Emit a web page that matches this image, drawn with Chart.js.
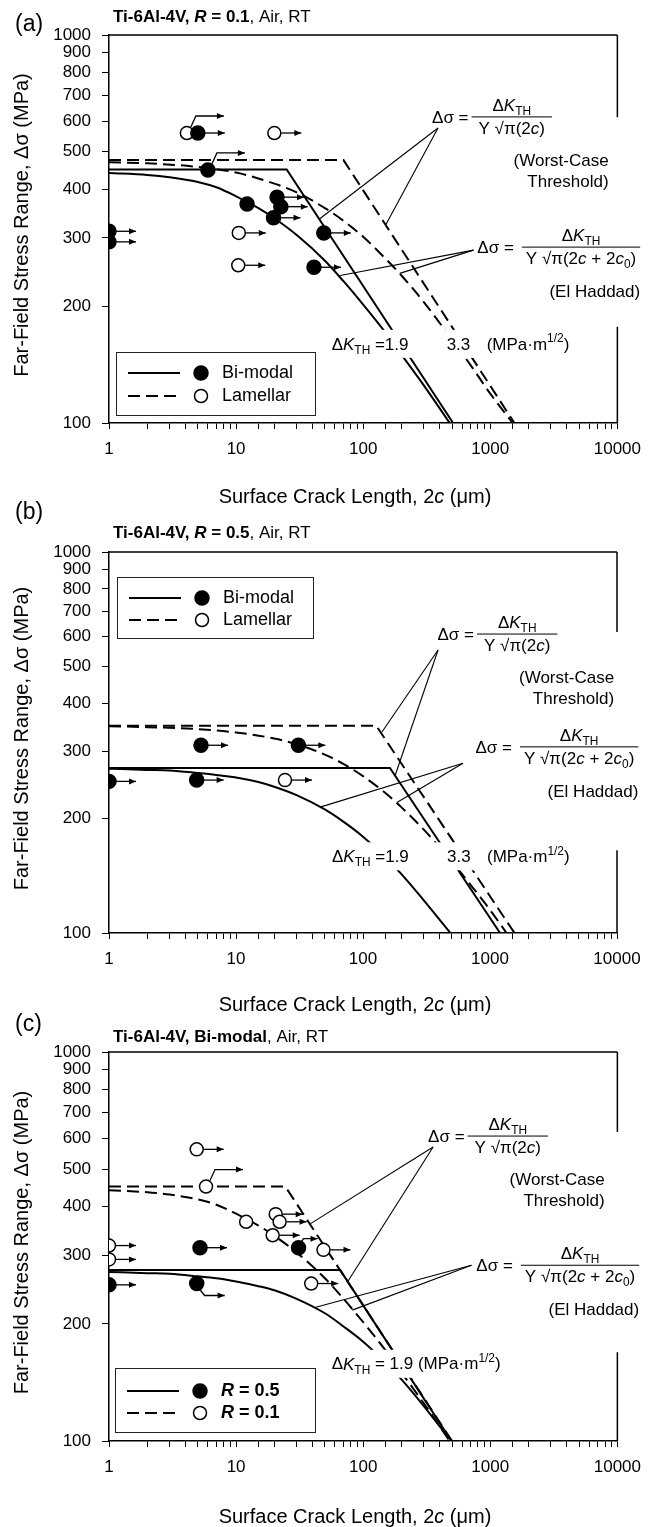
<!DOCTYPE html>
<html>
<head>
<meta charset="utf-8">
<script src="https://cdn.jsdelivr.net/npm/chart.js@4.4.1/dist/chart.umd.min.js"></script>
<style>
body { margin: 0; background: #fff; }
#wrap { position: relative; width: 651px; height: 1527px; overflow: hidden; }
canvas { position: absolute; left: 0; }
</style>
</head>
<body>
<div id="wrap">
  <canvas id="chartA" width="651" height="520" style="top:0px"></canvas>
  <canvas id="chartB" width="651" height="530" style="top:490px"></canvas>
  <canvas id="chartC" width="651" height="522" style="top:1005px"></canvas>
</div>
<script>
// tick labels
var xTickLabels = [1, 10, 100, 1000, 10000];
var yTickLabels = [100, 200, 300, 400, 500, 600, 700, 800, 900, 1000];

// (a) R = 0.1 : test points (arrow: r = runout, u/d = bent arrow)
var aBimodalX = [1, 1, 5.0, 6.0, 12.2, 21, 22.5, 19.7, 49, 41];
var aBimodalY = [312, 293, 559, 449, 367, 382, 361, 338, 309, 252];
var aBimodalArrow = ['r', 'r', 'r', 'u', '', 'r', 'r', 'r', 'r', 'r'];
var aLamellarX = [4.1, 20, 10.5, 10.4];
var aLamellarY = [559, 559, 309, 255];
var aLamellarArrow = ['u', 'r', 'r', 'r'];
// (a) threshold lines
var aWorstBimodalX = [1, 25, 510];
var aWorstBimodalY = [450, 450, 100];
var aWorstLamellarX = [1, 70, 1550];
var aWorstLamellarY = [476, 476, 100];
var aHaddadBimodalX = [1, 2, 3, 5, 7, 10, 15, 20, 30, 50, 70, 100, 150, 200, 300, 500];
var aHaddadBimodalY = [441, 436, 430, 418, 405, 384, 358, 337, 305, 262, 232, 202, 171, 150, 125, 98];
var aHaddadLamellarX = [1, 2, 5, 10, 20, 30, 50, 70, 100, 150, 200, 300, 500, 700, 1000, 1500];
var aHaddadLamellarY = [470, 467, 457, 442, 414, 393, 358, 332, 302, 265, 240, 205, 164, 141, 119, 100];

// (b) R = 0.5
var bBimodalX = [1, 5.3, 4.9, 31];
var bBimodalY = [250, 311, 252, 311];
var bBimodalArrow = ['r', 'r', 'r', 'r'];
var bLamellarX = [24.3];
var bLamellarY = [252];
var bLamellarArrow = ['r'];
var bWorstBimodalX = [1, 163, 1200];
var bWorstBimodalY = [271, 271, 100];
var bWorstLamellarX = [1, 127, 1560];
var bWorstLamellarY = [350, 350, 100];
var bHaddadBimodalX = [1, 2, 3, 5, 7, 10, 15, 20, 30, 50, 70, 100, 150, 200, 300, 500];
var bHaddadBimodalY = [270, 268, 267, 263, 260, 256, 249, 242, 230, 211, 196, 179, 158, 143, 122, 99];
var bHaddadLamellarX = [1, 2, 5, 10, 20, 30, 50, 70, 100, 150, 200, 300, 500, 700, 1000, 1350];
var bHaddadLamellarY = [349, 347, 343, 336, 324, 313, 294, 278, 258, 233, 214, 187, 154, 134, 115, 100];

// (c) Bi-modal, R = 0.5 vs R = 0.1
var cR01X = [1, 1, 4.9, 5.8, 12, 20.5, 22, 19.4, 48.7, 39];
var cR01Y = [318, 293, 562, 451, 366, 383, 366, 338, 310, 254];
var cR01Arrow = ['r', 'r', 'r', 'u', '', 'r', 'r', 'r', 'r', 'r'];
var cR05X = [1, 5.2, 4.9, 31];
var cR05Y = [252, 314, 254, 314];
var cR05Arrow = ['r', 'r', 'd', 'u2'];
var cWorstR05X = [1, 66, 495];
var cWorstR05Y = [275, 275, 100];
var cWorstR01X = [1, 24.4, 500];
var cWorstR01Y = [451, 451, 100];
var cHaddadR05X = [1, 2, 3, 5, 7, 10, 15, 20, 30, 50, 70, 100, 150, 200, 300, 450, 500];
var cHaddadR05Y = [272, 270, 269, 265, 262, 257, 250, 244, 232, 213, 197, 180, 159, 144, 123, 104, 100];
var cHaddadR01X = [1, 2, 3, 5, 7, 10, 15, 20, 30, 50, 70, 100, 150, 200, 300, 500];
var cHaddadR01Y = [441, 436, 430, 418, 405, 384, 358, 337, 305, 262, 232, 202, 171, 150, 125, 98];

var FONT = '"Liberation Sans", Arial, Helvetica, sans-serif';

function pts(xs, ys) {
  return xs.map(function (x, i) { return { x: x, y: ys[i] }; });
}

function markerSet(label, xs, ys, arrows, filled) {
  return {
    label: label, data: pts(xs, ys), arrows: arrows, showLine: false,
    pointRadius: filled ? 7 : 6.5,
    pointBackgroundColor: filled ? '#000' : '#fff',
    pointBorderColor: '#000', pointBorderWidth: 1.5, order: 0
  };
}

function lineSet(label, xs, ys, dashed, smooth) {
  return {
    label: label, data: pts(xs, ys), showLine: true, pointRadius: 0,
    borderColor: '#000', borderWidth: 2, borderDash: dashed ? [12, 6] : [],
    tension: 0, cubicInterpolationMode: smooth ? 'monotone' : 'default',
    fill: false, order: 1
  };
}

// --- rich text helpers (italic / bold / sub / sup pieces) ---
function fontStr(size, s) {
  return (s.i ? 'italic ' : '') + (s.b ? 'bold ' : '') + size + 'px ' + FONT;
}
function segSize(size, s) { return (s.sub || s.sup) ? size * 0.7 : size; }
function richWidth(ctx, segs, size) {
  var w = 0;
  segs.forEach(function (s) {
    ctx.font = fontStr(segSize(size, s), s);
    w += ctx.measureText(s.t).width;
  });
  return w;
}
function drawRich(ctx, segs, x, y, size, align) {
  var w = richWidth(ctx, segs, size);
  if (align === 'center') x -= w / 2;
  else if (align === 'right') x -= w;
  ctx.textBaseline = 'middle';
  ctx.textAlign = 'left';
  ctx.fillStyle = '#000';
  segs.forEach(function (s) {
    var dy = s.sub ? size * 0.32 : (s.sup ? -size * 0.35 : 0);
    ctx.font = fontStr(segSize(size, s), s);
    ctx.fillText(s.t, x, y + dy);
    x += ctx.measureText(s.t).width;
  });
  return w;
}

var segDK = [{ t: '\u0394' }, { t: 'K', i: 1 }, { t: 'TH', sub: 1 }];
var segDen1 = [{ t: 'Y \u221a\u03c0(2' }, { t: 'c', i: 1 }, { t: ')' }];
var segDen2 = [{ t: 'Y \u221a\u03c0(2' }, { t: 'c', i: 1 }, { t: ' + 2' }, { t: 'c', i: 1 }, { t: '0', sub: 1 }, { t: ')' }];
var segUnit = [{ t: '(MPa\u00b7m' }, { t: '1/2', sup: 1 }, { t: ')' }];

var ARROWS = {
  r: [[7, 0], [27, 0]],
  u: [[4, -6], [9, -17], [37, -17]],
  u2: [[3, -6], [5, -9], [19, -9]],
  d: [[3, 6], [8, 12], [28, 12]]
};

function drawArrow(ctx, cx, cy, path) {
  ctx.beginPath();
  ctx.moveTo(cx + path[0][0], cy + path[0][1]);
  for (var k = 1; k < path.length; k++) ctx.lineTo(cx + path[k][0], cy + path[k][1]);
  ctx.stroke();
  var ex = cx + path[path.length - 1][0], ey = cy + path[path.length - 1][1];
  ctx.beginPath();
  ctx.moveTo(ex, ey);
  ctx.lineTo(ex - 7, ey - 3);
  ctx.lineTo(ex - 7, ey + 3);
  ctx.closePath();
  ctx.fill();
}

function drawFraction(ctx, ax, ay, den, kind) {
  var size = 17;
  var lw = Math.max(richWidth(ctx, segDK, size), richWidth(ctx, den, size)) + (kind === 'worst' ? 14 : 8);
  drawRich(ctx, [{ t: '\u0394\u03c3 =' }], ax - (kind === 'worst' ? 3 : 8), ay + 1, size, 'right');
  ctx.strokeStyle = '#000';
  ctx.lineWidth = 1;
  ctx.beginPath(); ctx.moveTo(ax, ay); ctx.lineTo(ax + lw, ay); ctx.stroke();
  drawRich(ctx, segDK, ax + lw / 2, ay - 11, size, 'center');
  drawRich(ctx, den, ax + lw / 2, ay + 12, size, 'center');
  if (kind === 'worst') {
    var w = drawRich(ctx, [{ t: '(Worst-Case' }], ax + 42, ay + 44, size, 'left');
    drawRich(ctx, [{ t: 'Threshold)' }], ax + 42 + w, ay + 65, size, 'right');
  } else {
    drawRich(ctx, [{ t: '(El Haddad)' }], ax + lw, ay + 45, size, 'right');
  }
}

function makeDecor(p) {
  return {
    id: 'decor',
    beforeDatasetsDraw: function (chart) {
      var ctx = chart.ctx, a = chart.chartArea, ys = chart.scales.y;
      ctx.save();
      ctx.strokeStyle = '#000';
      ctx.lineWidth = 1.5;
      ctx.beginPath();
      ctx.moveTo(a.left, a.top); ctx.lineTo(a.right, a.top);
      ctx.moveTo(a.right, a.top); ctx.lineTo(a.right, ys.getPixelForValue(p.frameGap[0]));
      ctx.moveTo(a.right, ys.getPixelForValue(p.frameGap[1])); ctx.lineTo(a.right, a.bottom);
      ctx.stroke();
      ctx.restore();
    },
    afterDatasetsDraw: function (chart) {
      var ctx = chart.ctx, xs = chart.scales.x, ys = chart.scales.y;
      ctx.save();
      // runout arrows
      ctx.strokeStyle = '#000'; ctx.fillStyle = '#000'; ctx.lineWidth = 1.3;
      chart.data.datasets.forEach(function (ds, i) {
        if (!ds.arrows) return;
        chart.getDatasetMeta(i).data.forEach(function (el, j) {
          var code = ds.arrows[j];
          if (code) drawArrow(ctx, el.x, el.y, ARROWS[code]);
        });
      });
      // threshold label with white band cutting the lines
      var lx = xs.getPixelForValue(p.dk.at[0]), ly = ys.getPixelForValue(p.dk.at[1]);
      var pieces;
      if (p.dk.split) {
        pieces = [[segDK.concat([{ t: ' =1.9' }]), 0], [[{ t: '3.3' }], 115], [segUnit, 155]];
      } else {
        pieces = [[segDK.concat([{ t: ' = 1.9 ' }]).concat(segUnit), 0]];
      }
      var last = pieces[pieces.length - 1];
      var endX = lx + last[1] + richWidth(ctx, last[0], 17);
      ctx.fillStyle = '#fff';
      ctx.fillRect(lx - 5, ly - 15, endX - lx + 10, 28);
      pieces.forEach(function (pc) { drawRich(ctx, pc[0], lx + pc[1], ly, 17, 'left'); });
      // formulas
      drawFraction(ctx, xs.getPixelForValue(p.fracWorst[0]), ys.getPixelForValue(p.fracWorst[1]), segDen1, 'worst');
      drawFraction(ctx, xs.getPixelForValue(p.fracHaddad[0]), ys.getPixelForValue(p.fracHaddad[1]), segDen2, 'haddad');
      // leader lines
      ctx.strokeStyle = '#000'; ctx.lineWidth = 1.1;
      p.leaders.forEach(function (L) {
        ctx.beginPath();
        ctx.moveTo(xs.getPixelForValue(L[0][0]), ys.getPixelForValue(L[0][1]));
        ctx.lineTo(xs.getPixelForValue(L[1][0]), ys.getPixelForValue(L[1][1]));
        ctx.stroke();
      });
      // legend box
      var g = p.legend;
      ctx.fillStyle = '#fff';
      ctx.fillRect(g.x, g.y, g.w, g.h);
      ctx.strokeStyle = '#222'; ctx.lineWidth = 1;
      ctx.strokeRect(g.x + 0.5, g.y + 0.5, g.w, g.h);
      g.items.forEach(function (it, k) {
        var ry = g.y + g.rows[k];
        ctx.strokeStyle = '#000'; ctx.lineWidth = 2;
        ctx.setLineDash(it.dashed ? [12, 6] : []);
        ctx.beginPath(); ctx.moveTo(g.x + 12, ry); ctx.lineTo(g.x + 64, ry); ctx.stroke();
        ctx.setLineDash([]);
        ctx.beginPath();
        ctx.arc(g.x + 85, ry, it.filled ? 7 : 6.5, 0, Math.PI * 2);
        ctx.fillStyle = it.filled ? '#000' : '#fff';
        ctx.fill();
        ctx.lineWidth = 1.5; ctx.stroke();
        drawRich(ctx, it.label, g.x + 106, ry, 18, 'left');
      });
      ctx.restore();
    },
    afterDraw: function (chart) {
      var ctx = chart.ctx, a = chart.chartArea;
      ctx.save();
      drawRich(ctx, [{ t: p.letter }], 15, p.letterY, 23, 'left');
      drawRich(ctx, p.title, 113, p.titleY, 17, 'left');
      drawRich(ctx, [{ t: 'Surface Crack Length, 2' }, { t: 'c', i: 1 }, { t: ' (\u03bcm)' }], 355, p.xTitleY, 20, 'center');
      ctx.translate(22, (a.top + a.bottom) / 2 - 4);
      ctx.rotate(-Math.PI / 2);
      drawRich(ctx, [{ t: 'Far-Field Stress Range, \u0394\u03c3 (MPa)' }], 0, 0, 20, 'center');
      ctx.restore();
    }
  };
}

function buildChart(p) {
  var canvas = document.getElementById(p.canvas);
  var H = canvas.height;
  new Chart(canvas, {
    type: 'scatter',
    data: { datasets: p.datasets },
    options: {
      responsive: false,
      animation: false,
      events: [],
      layout: { padding: { top: p.top, right: 651 - p.right, left: 0, bottom: 0 } },
      plugins: { legend: { display: false }, tooltip: { enabled: false } },
      scales: {
        x: {
          type: 'logarithmic', min: 1, max: 10000, position: 'bottom',
          afterFit: function (s) { s.height = H - p.bottom; },
          grid: { display: true, drawOnChartArea: false, drawTicks: true, tickLength: 6, color: '#000', lineWidth: 1 },
          border: { display: true, color: '#000', width: 1.5 },
          ticks: {
            autoSkip: false, maxRotation: 0, minRotation: 0, padding: 10, color: '#000',
            font: { family: FONT, size: 17 },
            callback: function (v) { return xTickLabels.indexOf(Math.round(v)) >= 0 && Math.abs(v - Math.round(v)) < 1e-6 ? String(Math.round(v)) : ''; }
          }
        },
        y: {
          type: 'logarithmic', min: 100, max: 1000, position: 'left',
          afterFit: function (s) { s.width = 109; },
          afterBuildTicks: function (s) { s.ticks = yTickLabels.map(function (v) { return { value: v }; }); },
          grid: { display: true, drawOnChartArea: false, drawTicks: true, tickLength: 7, color: '#000', lineWidth: 1 },
          border: { display: true, color: '#000', width: 1.5 },
          ticks: {
            autoSkip: false, padding: 11, color: '#000',
            font: { family: FONT, size: 17 },
            callback: function (v) { return String(Math.round(v)); }
          }
        }
      }
    },
    plugins: [makeDecor(p)]
  });
}

var legendAB = [
  { dashed: false, filled: true, label: [{ t: 'Bi-modal' }] },
  { dashed: true, filled: false, label: [{ t: 'Lamellar' }] }
];

buildChart({
  canvas: 'chartA', top: 35, bottom: 423, right: 625,
  letter: '(a)', letterY: 25, titleY: 17, xTitleY: 497,
  title: [{ t: 'Ti-6Al-4V, ', b: 1 }, { t: 'R', b: 1, i: 1 }, { t: ' = 0.1', b: 1 }, { t: ', Air, RT' }],
  datasets: [
    markerSet('Bi-modal', aBimodalX, aBimodalY, aBimodalArrow, true),
    markerSet('Lamellar', aLamellarX, aLamellarY, aLamellarArrow, false),
    lineSet('Bi-modal worst-case', aWorstBimodalX, aWorstBimodalY, false, false),
    lineSet('Lamellar worst-case', aWorstLamellarX, aWorstLamellarY, true, false),
    lineSet('Bi-modal El Haddad', aHaddadBimodalX, aHaddadBimodalY, false, true),
    lineSet('Lamellar El Haddad', aHaddadLamellarX, aHaddadLamellarY, true, true)
  ],
  frameGap: [614, 177],
  fracWorst: [712, 615], fracHaddad: [1771, 284],
  dk: { at: [56.5, 159], split: true },
  leaders: [[[388, 576], [45, 335]], [[388, 576], [151, 325]], [[738, 279], [66, 240]], [[738, 279], [194, 243]]],
  legend: { x: 116, y: 352, w: 199, h: 63, rows: [21, 44], items: legendAB }
});

buildChart({
  canvas: 'chartB', top: 62, bottom: 443, right: 617,
  letter: '(b)', letterY: 23, titleY: 43, xTitleY: 515,
  title: [{ t: 'Ti-6Al-4V, ', b: 1 }, { t: 'R', b: 1, i: 1 }, { t: ' = 0.5', b: 1 }, { t: ', Air, RT' }],
  datasets: [
    markerSet('Bi-modal', bBimodalX, bBimodalY, bBimodalArrow, true),
    markerSet('Lamellar', bLamellarX, bLamellarY, bLamellarArrow, false),
    lineSet('Bi-modal worst-case', bWorstBimodalX, bWorstBimodalY, false, false),
    lineSet('Lamellar worst-case', bWorstLamellarX, bWorstLamellarY, true, false),
    lineSet('Bi-modal El Haddad', bHaddadBimodalX, bHaddadBimodalY, false, true),
    lineSet('Lamellar El Haddad', bHaddadLamellarX, bHaddadLamellarY, true, true)
  ],
  frameGap: [617, 165],
  fracWorst: [790, 609], fracHaddad: [1722, 308],
  dk: { at: [57, 158], split: true },
  leaders: [[[390, 553], [141, 337]], [[390, 553], [179, 259]], [[613, 279], [46, 214]], [[613, 279], [185, 220]]],
  legend: { x: 117, y: 87, w: 196, h: 61, rows: [21, 43], items: legendAB }
});

buildChart({
  canvas: 'chartC', top: 47, bottom: 436, right: 624,
  letter: '(c)', letterY: 20, titleY: 32, xTitleY: 512,
  title: [{ t: 'Ti-6Al-4V, Bi-modal', b: 1 }, { t: ', Air, RT' }],
  datasets: [
    markerSet('R = 0.5', cR05X, cR05Y, cR05Arrow, true),
    markerSet('R = 0.1', cR01X, cR01Y, cR01Arrow, false),
    lineSet('R = 0.5 worst-case', cWorstR05X, cWorstR05Y, false, false),
    lineSet('R = 0.1 worst-case', cWorstR01X, cWorstR01Y, true, false),
    lineSet('R = 0.5 El Haddad', cHaddadR05X, cHaddadR05Y, false, true),
    lineSet('R = 0.1 El Haddad', cHaddadR01X, cHaddadR01Y, true, true)
  ],
  frameGap: [623, 169],
  fracWorst: [663, 608], fracHaddad: [1740, 283],
  dk: { at: [56.5, 157], split: false },
  leaders: [[[355, 570], [38, 361]], [[355, 570], [75, 256]], [[712, 283], [41, 220]], [[712, 283], [82, 217]]],
  legend: {
    x: 115, y: 363, w: 200, h: 64, rows: [23, 45], items: [
      { dashed: false, filled: true, label: [{ t: 'R', b: 1, i: 1 }, { t: ' = 0.5', b: 1 }] },
      { dashed: true, filled: false, label: [{ t: 'R', b: 1, i: 1 }, { t: ' = 0.1', b: 1 }] }
    ]
  }
});
</script>
</body>
</html>
